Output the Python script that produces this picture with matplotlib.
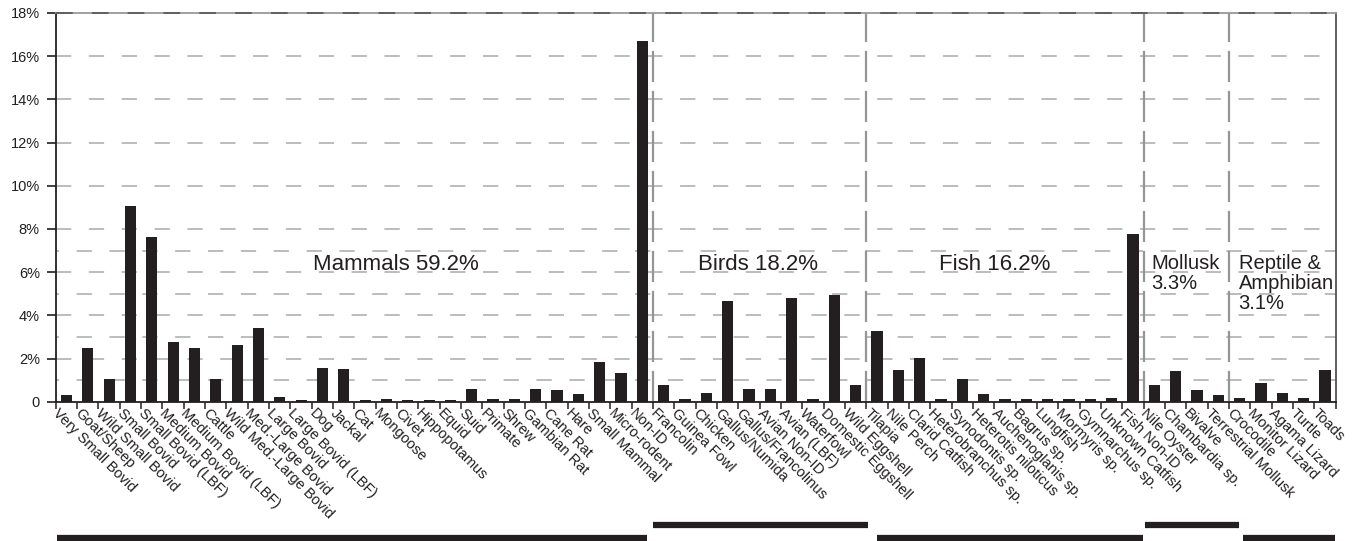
import numpy as np
import matplotlib.pyplot as plt
from matplotlib.transforms import ScaledTranslation, blended_transform_factory

plt.rcParams['font.family'] = ['Liberation Sans', 'DejaVu Sans']

INK = '#231f20'
GRID = '#a7a9ac'

mammals = ["Very Small Bovid", "Goat/Sheep", "Wild Small Bovid", "Small Bovid",
           "Small Bovid (LBF)", "Medium Bovid", "Medium Bovid (LBF)", "Cattle",
           "Wild Med.-Large Bovid", "Med.-Large Bovid", "Large Bovid",
           "Large Bovid (LBF)", "Dog", "Jackal", "Cat", "Mongoose", "Civet",
           "Hippopotamus", "Equid", "Suid", "Primate", "Shrew", "Gambian Rat",
           "Cane Rat", "Hare", "Small Mammal", "Micro-rodent", "Non-ID"]
mammal_pct = [0.31, 2.5, 1.05, 9.05, 7.64, 2.77, 2.5, 1.05, 2.63, 3.42, 0.22,
              0.08, 1.56, 1.52, 0.06, 0.12, 0.06, 0.06, 0.06, 0.59, 0.12, 0.12,
              0.59, 0.54, 0.36, 1.84, 1.33, 16.7]

birds = ["Francolin", "Guinea Fowl", "Chicken", "Gallus/Numida",
         "Gallus/Francolinus", "Avian Non-ID", "Avian (LBF)", "Waterfowl",
         "Domestic Eggshell", "Wild Eggshell"]
bird_pct = [0.77, 0.12, 0.4, 4.67, 0.59, 0.59, 4.81, 0.12, 4.95, 0.77]

fish = ["Tilapia", "Nile Perch", "Clarid Catfish", "Heterobranchus sp.",
        "Synodontis sp.", "Heterotis niloticus", "Auchenoglanis sp.",
        "Bagrus sp.", "Lungfish", "Mormyris sp.", "Gymnarchus sp.",
        "Unknown Catfish", "Fish Non-ID"]
fish_pct = [3.28, 1.47, 2.03, 0.12, 1.05, 0.36, 0.12, 0.12, 0.12, 0.12, 0.12,
            0.17, 7.78]

mollusk = ["Nile Oyster", "Chambardia sp.", "Bivalve", "Terrestrial Mollusk"]
mollusk_pct = [0.77, 1.42, 0.54, 0.31]

reptile = ["Crocodile", "Monitor Lizard", "Agama Lizard", "Turtle", "Toads"]
reptile_pct = [0.17, 0.87, 0.4, 0.17, 1.47]

group_titles = ["Mammals 59.2%", "Birds 18.2%", "Fish 16.2%",
                "Mollusk\n3.3%", "Reptile &\nAmphibian\n3.1%"]

groups = [(mammals, mammal_pct), (birds, bird_pct), (fish, fish_pct),
          (mollusk, mollusk_pct), (reptile, reptile_pct)]

labels = [name for g in groups for name in g[0]]
values = [v for g in groups for v in g[1]]
sizes = [len(g[0]) for g in groups]
edges = np.concatenate([[0], np.cumsum(sizes)])

fig = plt.figure(figsize=(13.66, 5.41), dpi=100)
ax = fig.add_axes([0.0408, 0.2575, 0.9370, 0.7185])

x = np.arange(len(labels)) + 0.5
ax.bar(x, values, width=0.52, color=INK, zorder=3)

ax.set_xlim(0, len(labels))
ax.set_ylim(0, 18)

# horizontal grid: every 2% all the way up, odd steps only up to 7%
for y in range(2, 18, 2):
    ax.axhline(y, color=GRID, lw=1.1, ls=(0, (10, 11.5)), zorder=1)
for y in range(1, 8, 2):
    ax.axhline(y, color=GRID, lw=1.1, ls=(8, (10, 11.5)), zorder=1)
ax.axhline(18, color='#555555', lw=1.2, ls=(0, (10, 11.5)), zorder=4, clip_on=False)

# separators between the animal classes
for e in edges[1:-1]:
    ax.axvline(e, color='#939598', lw=1.6, ls=(0, (14, 4)), zorder=2)

ax.set_yticks(range(0, 19, 2))
ax.set_yticklabels(['0'] + ['%d%%' % t for t in range(2, 19, 2)])
ax.tick_params(axis='y', length=6.5, width=1.2, direction='out', pad=5,
               labelsize=10.5, colors=INK)

ax.set_xticks(np.arange(len(labels) + 1))
ax.set_xticklabels([])
ax.set_xticks(x, minor=True)
ax.set_xticklabels(labels, minor=True, rotation=-45, ha='left', va='top',
                   rotation_mode='anchor', fontsize=10.5, color=INK)
ax.tick_params(axis='x', which='major', length=5, width=1.1, direction='out',
               color=INK)
ax.tick_params(axis='x', which='minor', length=0, pad=3)
shift = ScaledTranslation(-0.06, 0, fig.dpi_scale_trans)
for lab in ax.get_xticklabels(minor=True):
    lab.set_transform(lab.get_transform() + shift)

for side in ['left', 'bottom']:
    ax.spines[side].set_color(INK)
    ax.spines[side].set_linewidth(1.3)
ax.spines['right'].set_color('#444444')
ax.spines['right'].set_linewidth(1.2)
ax.spines['top'].set_color('#999999')
ax.spines['top'].set_linewidth(1.3)

# class names inside the plot
title_x = [12.05, 30.1, 41.4, 51.35, 55.45]
title_size = [16, 16, 16, 14.5, 14.5]
for tx, title, fs in zip(title_x, group_titles, title_size):
    ax.text(tx, 6.85, title, fontsize=fs, color=INK, ha='left', va='top',
            linespacing=1.08, zorder=5)

# brackets under the category labels
tr = blended_transform_factory(ax.transData, fig.transFigure)
bar_y = [0.006, 0.030, 0.006, 0.030, 0.006]
start_pad = [0.05, 0.0, 0.5, 0.05, 0.65]
end_pad = [0.3, -0.1, 0.05, -0.45, 0.05]
for i in range(len(groups)):
    fig.add_artist(plt.Line2D([edges[i] + start_pad[i], edges[i + 1] - end_pad[i]],
                              [bar_y[i], bar_y[i]], transform=tr,
                              color=INK, lw=4.5, solid_capstyle='butt'))

fig.savefig('out.png', dpi=100)
